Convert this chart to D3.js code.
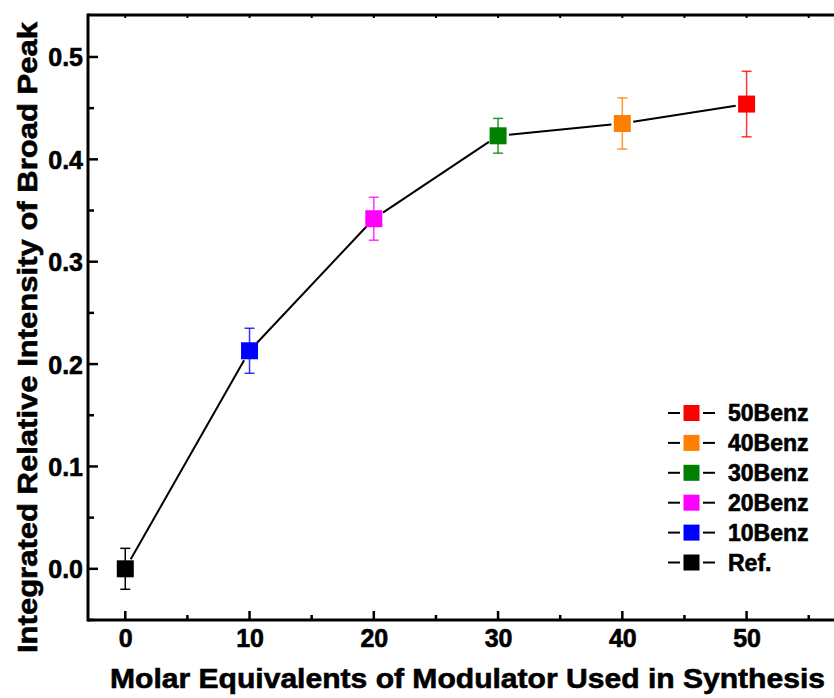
<!DOCTYPE html>
<html><head><meta charset="utf-8">
<script src="https://cdn.jsdelivr.net/npm/d3@7"></script>
<style>body{margin:0;background:#fff}svg{display:block}text{font-family:"Liberation Sans",Arial,sans-serif;font-weight:bold;stroke:#000;stroke-width:0.6px}</style>
</head><body>
<script>
const samples = ["Ref.","10Benz","20Benz","30Benz","40Benz","50Benz"];
const xValues = [0,10,20,30,40,50];
const yValues = [0.0,0.213,0.342,0.423,0.435,0.454];
const yErrors = [0.020,0.022,0.021,0.017,0.025,0.032];
const colors = ["#000000","#0000ff","#ff00ff","#008000","#ff8000","#ff0000"];
const xTicks = [0,10,20,30,40,50];
const yTicks = [0.0,0.1,0.2,0.3,0.4,0.5];
const xTitle = "Molar Equivalents of Modulator Used in Synthesis";
const yTitle = "Integrated Relative Intensity of Broad Peak";

const W=834,H=698;
const L=88,T=15,B=620,R=846;
const svg=d3.select("body").append("svg").attr("width",W).attr("height",H);
const x=d3.scaleLinear().domain([-3,58]).range([L,R]);
const y=d3.scaleLinear().domain([-0.05,0.541]).range([B,T]);

// connecting line segments with gaps near markers
const gap=11;
for(let i=0;i<xValues.length-1;i++){
  const x1=x(xValues[i]),y1=y(yValues[i]),x2=x(xValues[i+1]),y2=y(yValues[i+1]);
  const d=Math.hypot(x2-x1,y2-y1),ux=(x2-x1)/d,uy=(y2-y1)/d;
  svg.append("line").attr("x1",x1+ux*gap).attr("y1",y1+uy*gap).attr("x2",x2-ux*gap).attr("y2",y2-uy*gap)
    .attr("stroke","#000").attr("stroke-width",2);
}
// error bars
xValues.forEach((v,i)=>{
  const g=svg.append("g").attr("stroke",colors[i]).attr("stroke-width",1.5).attr("stroke-opacity",i===0?1:0.8);
  const cx=x(v),yt=y(yValues[i]+yErrors[i]),yb=y(yValues[i]-yErrors[i]);
  g.append("line").attr("x1",cx).attr("x2",cx).attr("y1",yt).attr("y2",yb);
  g.append("line").attr("x1",cx-5).attr("x2",cx+5).attr("y1",yt).attr("y2",yt);
  g.append("line").attr("x1",cx-5).attr("x2",cx+5).attr("y1",yb).attr("y2",yb);
});
// markers
const ms=17;
xValues.forEach((v,i)=>{
  svg.append("rect").attr("x",x(v)-ms/2).attr("y",y(yValues[i])-ms/2).attr("width",ms).attr("height",ms)
    .attr("fill",colors[i]);
});

// axes
const axisW=3;
const xMinor=d3.range(-0,60,5);
const yMinor=d3.range(-0.05,0.54,0.05).map(d=>+d.toFixed(2));
// bottom
const bx=svg.append("g").attr("transform",`translate(0,${B})`)
  .call(d3.axisBottom(x).tickValues(xTicks).tickSize(0).tickPadding(0).tickFormat(d3.format("d")));
bx.select(".domain").remove();
bx.selectAll("text").attr("font-size",25).attr("fill","#000").attr("y",27).attr("dy",null);
svg.append("g").selectAll("line").data(xMinor).join("line")
  .attr("x1",d=>x(d)).attr("x2",d=>x(d)).attr("y1",B).attr("y2",d=>B-(d%10===0?9:5))
  .attr("stroke","#000").attr("stroke-width",2.5);
// top ticks
svg.append("g").selectAll("line").data(xMinor).join("line")
  .attr("x1",d=>x(d)).attr("x2",d=>x(d)).attr("y1",T).attr("y2",T+3)
  .attr("stroke","#000").attr("stroke-width",2);
// left
const ly=svg.append("g").attr("transform",`translate(${L},0)`)
  .call(d3.axisLeft(y).tickValues(yTicks).tickSize(0).tickPadding(5).tickFormat(d3.format(".1f")));
ly.select(".domain").remove();
ly.selectAll("text").attr("font-size",25).attr("fill","#000").attr("dy","0.36em");
svg.append("g").selectAll("line").data(yMinor).join("line")
  .attr("x1",L).attr("x2",d=>L+(Math.abs(Math.round(d*10)-d*10)<1e-6?10:6)).attr("y1",d=>y(d)).attr("y2",d=>y(d))
  .attr("stroke","#000").attr("stroke-width",2.5);
// frame lines
svg.append("line").attr("x1",L).attr("x2",W).attr("y1",B).attr("y2",B).attr("stroke","#000").attr("stroke-width",axisW);
svg.append("line").attr("x1",L).attr("x2",W).attr("y1",T).attr("y2",T).attr("stroke","#000").attr("stroke-width",axisW);
svg.append("line").attr("x1",L).attr("x2",L).attr("y1",T-1.5).attr("y2",B+1.5).attr("stroke","#000").attr("stroke-width",axisW);

// titles
svg.append("text").attr("x",467.5).attr("y",688).attr("text-anchor","middle").attr("font-size",28)
  .attr("textLength",715).attr("lengthAdjust","spacingAndGlyphs").text(xTitle);
svg.append("text").attr("transform",`translate(37,337.5) rotate(-90)`).attr("text-anchor","middle").attr("font-size",28)
  .attr("textLength",631).attr("lengthAdjust","spacingAndGlyphs").text(yTitle);

// legend
const legOrder=[5,4,3,2,1,0];
const lg=svg.append("g");
legOrder.forEach((idx,k)=>{
  const cy=413+k*29.9;
  lg.append("line").attr("x1",668).attr("x2",680).attr("y1",cy).attr("y2",cy).attr("stroke","#000").attr("stroke-width",2);
  lg.append("line").attr("x1",703).attr("x2",715).attr("y1",cy).attr("y2",cy).attr("stroke","#000").attr("stroke-width",2);
  lg.append("rect").attr("x",683.5).attr("y",cy-8).attr("width",16).attr("height",16).attr("fill",colors[idx]);
  lg.append("text").attr("x",728).attr("y",cy).attr("dy","0.36em").attr("font-size",23).text(samples[idx]);
});
</script>
</body></html>
